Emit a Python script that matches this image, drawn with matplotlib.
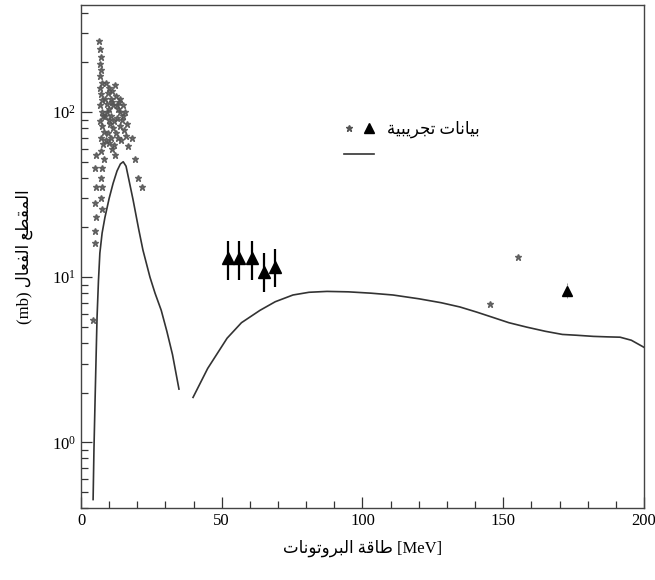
import matplotlib
matplotlib.use("Agg")
import matplotlib.pyplot as plt
from matplotlib.legend_handler import HandlerTuple
from matplotlib.lines import Line2D

# ---------------- data ----------------
# theoretical curve, low-energy branch (MeV, mb)
curve1_x = [4.3, 4.6, 5.0, 5.4, 5.7, 6.2, 6.7, 7.5, 8.5, 10.0, 11.4, 12.8, 14.0, 15.0,
            16.0, 17.0, 18.5, 20.5, 22.0, 24.5, 26.3, 28.5, 30.5, 32.5, 34.8]
curve1_y = [0.45, 0.9, 1.8, 3.5, 5.7, 9.5, 14.0, 18.5, 23.0, 30.0, 37.0, 44.0, 48.5, 50.0,
            47.0, 39.0, 29.4, 19.5, 14.6, 10.0, 8.0, 6.3, 4.7, 3.4, 2.1]
# theoretical curve, high-energy branch
curve2_x = [39.8, 45.0, 51.9, 57.0, 63.6, 69.0, 75.3, 81.0, 87.4, 95.0, 103.0, 110.8, 120.0,
            128.0, 134.6, 140.5, 146.4, 152.0, 158.4, 165.0, 171.0, 176.0, 182.0, 187.0,
            191.5, 195.5, 200.0]
curve2_y = [1.87, 2.8, 4.27, 5.3, 6.3, 7.1, 7.8, 8.1, 8.2, 8.15, 8.0, 7.8, 7.4,
            7.0, 6.6, 6.15, 5.7, 5.3, 4.98, 4.7, 4.5, 4.45, 4.38, 4.35,
            4.33, 4.15, 3.76]

# experimental points (small symbols)
dots_x = [4.3, 5.0, 5.0, 5.2, 5.0, 5.3, 5.1, 5.5,
          6.5, 6.8, 7.0, 6.6, 7.2, 6.9, 7.4, 6.7, 7.1, 7.6, 6.8, 7.3, 7.8, 6.9, 7.5, 8.0,
          7.0, 7.7, 7.2, 8.1, 7.4, 7.0, 7.6, 7.2, 7.5,
          9.0, 9.5, 10.0, 10.5, 11.0, 11.5, 12.0, 12.5, 13.0, 13.5, 14.0, 14.5, 15.0,
          9.2, 9.8, 10.3, 10.8, 11.3, 11.8, 12.3, 12.8, 13.3, 13.8, 14.3, 15.2, 16.0,
          9.5, 10.0, 10.6, 11.1, 11.7, 12.2, 8.5, 8.7, 8.8, 9.3, 10.1, 10.9, 12.7,
          13.9, 14.8, 15.5, 16.5, 16.8, 18.0, 19.2, 20.2, 21.6,
          145.3, 155.3]
dots_y = [5.5, 16, 19, 23, 28, 35, 46, 55,
          270, 240, 215, 195, 180, 165, 150, 140, 128, 118, 110, 100, 95, 88, 82, 76,
          70, 64, 58, 52, 46, 40, 35, 30, 26,
          150, 130, 140, 120, 135, 110, 145, 125, 105, 115, 100, 90, 95,
          100, 90, 85, 95, 80, 88, 75, 92, 70, 82, 68, 78, 72,
          75, 65, 70, 60, 63, 55, 120, 95, 68, 112, 105, 115, 110,
          120, 110, 100, 85, 62, 70, 52, 40, 35,
          6.85, 13.2]

# experimental points with bars (triangles)
tri_x = [52.2, 56.1, 60.7, 65.0, 68.9, 172.6]
tri_y = [13.0, 13.0, 13.0, 10.7, 11.5, 8.3]
tri_lo = [9.6, 9.6, 9.6, 8.1, 8.7, 7.5]
tri_hi = [16.5, 16.5, 16.5, 14.0, 14.8, 9.2]

x_ticks = [0, 50, 100, 150, 200]

# ---------------- simple Arabic shaping ----------------
FORMS = {  # isolated, final, initial, medial
    'ا': (0xFE8D, 0xFE8E, None, None),
    'ب': (0xFE8F, 0xFE90, 0xFE91, 0xFE92),
    'ة': (0xFE93, 0xFE94, None, None),
    'ت': (0xFE95, 0xFE96, 0xFE97, 0xFE98),
    'ج': (0xFE9D, 0xFE9E, 0xFE9F, 0xFEA0),
    'ر': (0xFEAD, 0xFEAE, None, None),
    'ط': (0xFEC1, 0xFEC2, 0xFEC3, 0xFEC4),
    'ع': (0xFEC9, 0xFECA, 0xFECB, 0xFECC),
    'ف': (0xFED1, 0xFED2, 0xFED3, 0xFED4),
    'ق': (0xFED5, 0xFED6, 0xFED7, 0xFED8),
    'ل': (0xFEDD, 0xFEDE, 0xFEDF, 0xFEE0),
    'م': (0xFEE1, 0xFEE2, 0xFEE3, 0xFEE4),
    'ن': (0xFEE5, 0xFEE6, 0xFEE7, 0xFEE8),
    'و': (0xFEED, 0xFEEE, None, None),
    'ي': (0xFEF1, 0xFEF2, 0xFEF3, 0xFEF4),
}


def shape_word(w):
    out = []
    for i, ch in enumerate(w):
        f = FORMS.get(ch)
        if f is None:
            out.append(ch)
            continue
        prev = w[i - 1] if i > 0 else None
        nxt = w[i + 1] if i < len(w) - 1 else None
        jp = prev in FORMS and FORMS[prev][2] is not None
        jn = nxt in FORMS and f[2] is not None
        if jp and jn:
            c = f[3]
        elif jp:
            c = f[1]
        elif jn:
            c = f[2]
        else:
            c = f[0]
        out.append(chr(c))
    return ''.join(reversed(out))


def shape_run(text):
    return ' '.join(shape_word(w) for w in reversed(text.split(' ')))


xlabel_txt = shape_run("طاقة البروتونات") + " [MeV]"
ylabel_txt = "(mb) " + shape_run("المقطع الفعال")
legend_txt = shape_run("بيانات تجريبية")

# ---------------- plot ----------------
plt.rcParams['font.family'] = ['Liberation Serif', 'DejaVu Sans']
plt.rcParams['mathtext.fontset'] = 'stix'

fig = plt.figure(figsize=(6.55, 5.8), dpi=100)
ax = fig.add_axes([81 / 655, 1 - 508 / 580, (644 - 81) / 655, (508 - 5) / 580])

ax.plot(curve1_x, curve1_y, color='#333333', lw=1.2)
ax.plot(curve2_x, curve2_y, color='#333333', lw=1.2)
ax.plot(dots_x, dots_y, ls='none', marker='*', ms=4.5, color='#555555', alpha=0.85)
ax.errorbar(tri_x[:5], tri_y[:5],
            yerr=[[y - l for y, l in zip(tri_y[:5], tri_lo[:5])],
                  [h - y for y, h in zip(tri_y[:5], tri_hi[:5])]],
            fmt='^', color='black', ms=8, capsize=0, elinewidth=1.6)
ax.errorbar(tri_x[5:], tri_y[5:],
            yerr=[[y - l for y, l in zip(tri_y[5:], tri_lo[5:])],
                  [h - y for y, h in zip(tri_y[5:], tri_hi[5:])]],
            fmt='^', color='black', ms=7, capsize=0, elinewidth=0.6, ecolor='#888888')

ax.set_yscale('log')
ax.set_xlim(0, 200)
ax.set_ylim(0.4, 445)
ax.set_xticks(x_ticks)
ax.set_xticks(range(0, 201, 10), minor=True)
ax.tick_params(which='both', direction='in', top=False, right=False, labelsize=12,
               width=0.9, colors='#333333', labelcolor='black')
ax.tick_params(which='major', length=8)
ax.tick_params(which='minor', length=5)
for s in ax.spines.values():
    s.set_color('#444444')
    s.set_linewidth(1.0)

ax.set_xlabel(xlabel_txt, fontsize=12, labelpad=8)
ax.set_ylabel(ylabel_txt, fontsize=12, labelpad=14)

h_pts = (Line2D([], [], ls='none', marker='*', ms=5, color='#555555'),
         Line2D([], [], ls='none', marker='^', ms=7, color='black'))
h_line = Line2D([], [], color='#333333', lw=1.2)
ax.legend([h_pts, h_line], [legend_txt, ''],
          handler_map={tuple: HandlerTuple(ndivide=None, pad=0.6)},
          loc='upper left', bbox_to_anchor=(0.44, 0.80), frameon=False,
          fontsize=12, handlelength=1.8, handletextpad=0.8, labelspacing=0.6)

fig.savefig('out.png', dpi=100)
